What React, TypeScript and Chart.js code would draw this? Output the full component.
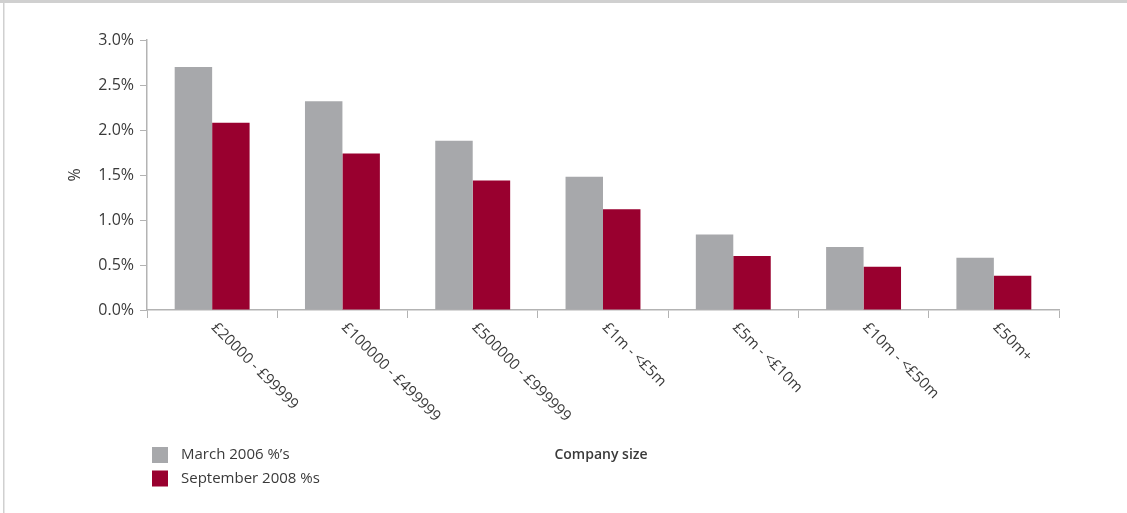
import React, { useEffect, useRef } from "react";
import { Chart, registerables } from "chart.js";

Chart.register(...registerables);

const categories = [
  "£20000 - £99999",
  "£100000 - £499999",
  "£500000 - £999999",
  "£1m - <£5m",
  "£5m - <£10m",
  "£10m - <£50m",
  "£50m+",
];
const march2006 = [2.7, 2.32, 1.88, 1.48, 0.84, 0.7, 0.58];
const september2008 = [2.08, 1.74, 1.44, 1.12, 0.6, 0.48, 0.38];
const seriesNames = ["March 2006 %’s", "September 2008 %s"];
const seriesColors = ["#a7a8ab", "#99002f"];
const yTitle = "%";
const xTitle = "Company size";

const FONT = "'Open Sans', 'Noto Sans', sans-serif";
const TEXT = "#3a3a3a";
const AXIS = "#b3b3b3";

const customPlugin = {
  id: "custom",
  beforeDraw(chart: any) {
    const ctx = chart.ctx;
    ctx.save();
    ctx.fillStyle = "#ffffff";
    ctx.fillRect(0, 0, chart.width, chart.height);
    ctx.fillStyle = "#d0d0d0";
    ctx.fillRect(0, 0, chart.width, 3);
    ctx.fillRect(3, 0, 1.5, chart.height);
    ctx.restore();
  },
  afterDraw(chart: any) {
    const ctx = chart.ctx;
    const x = chart.scales.x;
    const area = chart.chartArea;
    ctx.save();
    ctx.fillStyle = TEXT;
    // rotated category labels
    ctx.font = `15px ${FONT}`;
    ctx.textAlign = "left";
    ctx.textBaseline = "top";
    categories.forEach((c, i) => {
      const px = x.getPixelForValue(i);
      ctx.save();
      ctx.translate(px + 7, area.bottom + 10);
      ctx.rotate(Math.PI / 4);
      ctx.fillText(c, 0, 0);
      ctx.restore();
    });
    // y title
    ctx.save();
    ctx.translate(75, (area.top + area.bottom) / 2);
    ctx.rotate(-Math.PI / 2);
    ctx.textAlign = "center";
    ctx.textBaseline = "middle";
    ctx.font = `16px ${FONT}`;
    ctx.fillText(yTitle, 0, 0);
    ctx.restore();
    // x title
    ctx.textAlign = "center";
    ctx.textBaseline = "middle";
    ctx.font = `600 14px ${FONT}`;
    ctx.fillText(xTitle, 601, 455);
    // legend
    ctx.font = `15px ${FONT}`;
    ctx.textAlign = "left";
    const ys = [455, 478.5];
    seriesNames.forEach((n, i) => {
      ctx.fillStyle = seriesColors[i];
      ctx.fillRect(152, ys[i] - 8, 16, 16);
      ctx.fillStyle = TEXT;
      ctx.fillText(n, 181, ys[i]);
    });
    ctx.restore();
  },
};

export default function App() {
  const ref = useRef<HTMLCanvasElement>(null);
  useEffect(() => {
    document.body.style.margin = "0";
    const chart = new Chart(ref.current!, {
      type: "bar",
      data: {
        labels: categories,
        datasets: [
          {
            label: seriesNames[0],
            data: march2006,
            backgroundColor: seriesColors[0],
            barPercentage: 1,
            categoryPercentage: 0.575,
          },
          {
            label: seriesNames[1],
            data: september2008,
            backgroundColor: seriesColors[1],
            barPercentage: 1,
            categoryPercentage: 0.575,
          },
        ],
      },
      options: {
        animation: false,
        responsive: false,
        layout: { padding: { left: 0, top: 40, right: 68, bottom: 203 } },
        plugins: { legend: { display: false }, tooltip: { enabled: false } },
        scales: {
          x: {
            afterFit: (s: any) => {
              s.height = 0;
            },
            ticks: { display: false },
            grid: {
              drawOnChartArea: false,
              drawTicks: true,
              tickLength: 8,
              color: AXIS,
              offset: true,
            },
            border: { color: AXIS, width: 1.5 },
          },
          y: {
            min: 0,
            max: 3,
            afterFit: (s: any) => {
              s.width = 147;
            },
            ticks: {
              stepSize: 0.5,
              padding: 6,
              color: TEXT,
              font: { family: FONT, size: 16 },
              callback: (v: any) => Number(v).toFixed(1) + "%",
            },
            grid: {
              drawOnChartArea: false,
              drawTicks: true,
              tickLength: 7,
              color: AXIS,
            },
            border: { color: AXIS, width: 1.5 },
          },
        },
      },
      plugins: [customPlugin],
    });
    return () => chart.destroy();
  }, []);
  return <canvas ref={ref} width={1127} height={513} style={{ display: "block" }} />;
}
